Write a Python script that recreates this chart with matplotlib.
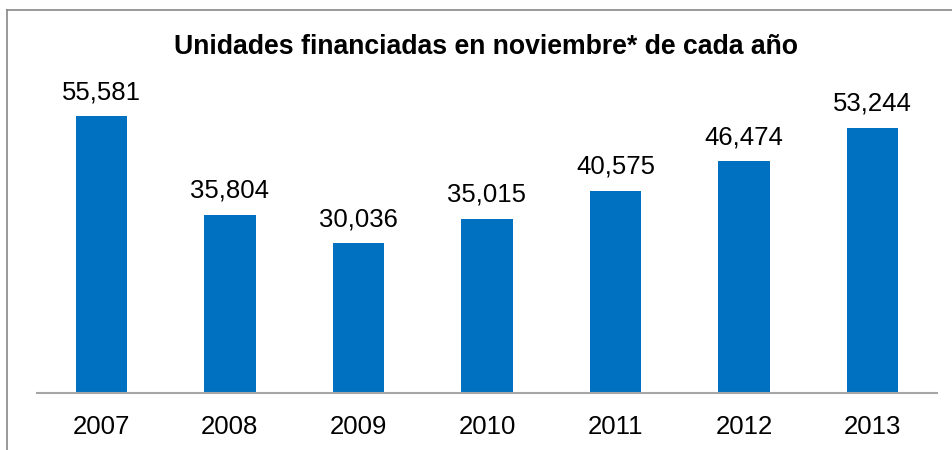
import matplotlib
matplotlib.use("Agg")
import matplotlib.pyplot as plt
from matplotlib.lines import Line2D

plt.rcParams['font.family'] = ['Liberation Sans', 'DejaVu Sans']

# data
years = ['2007', '2008', '2009', '2010', '2011', '2012', '2013']
units = [55581, 35804, 30036, 35015, 40575, 46474, 53244]

W, H = 952, 450
fig = plt.figure(figsize=(W / 100, H / 100), dpi=100)
ax = fig.add_axes([37 / W, (H - 393) / H, 900 / W, 299 / H])

bars = ax.bar(range(len(years)), units, width=0.4, color='#0070C0')
ax.set_xlim(-0.5, len(years) - 0.5)
ax.set_ylim(0, 60000)

for i, v in enumerate(units):
    ax.text(i, v + 3400, '{:,}'.format(v), ha='center', va='baseline', fontsize=18.5)

ax.set_xticks(range(len(years)))
ax.set_xticklabels(years, fontsize=18.5)
ax.tick_params(axis='x', length=0, pad=16)
ax.set_yticks([])
for s in ['top', 'right', 'left']:
    ax.spines[s].set_visible(False)
ax.spines['bottom'].set_color('#a6a6a6')
ax.spines['bottom'].set_linewidth(1.5)

fig.text(486 / W, 1 - 54 / H, 'Unidades financiadas en noviembre* de cada año',
         ha='center', va='baseline', fontsize=19.2, fontweight='bold')

# outer chart border (cut off at right and bottom)
fig.add_artist(Line2D([7 / W, 1.0], [1 - 10 / H, 1 - 10 / H], color='#888888', lw=1.2))
fig.add_artist(Line2D([7 / W, 7 / W], [0.0, 1 - 10 / H], color='#888888', lw=1.2))

fig.savefig('out.png', dpi=100)
